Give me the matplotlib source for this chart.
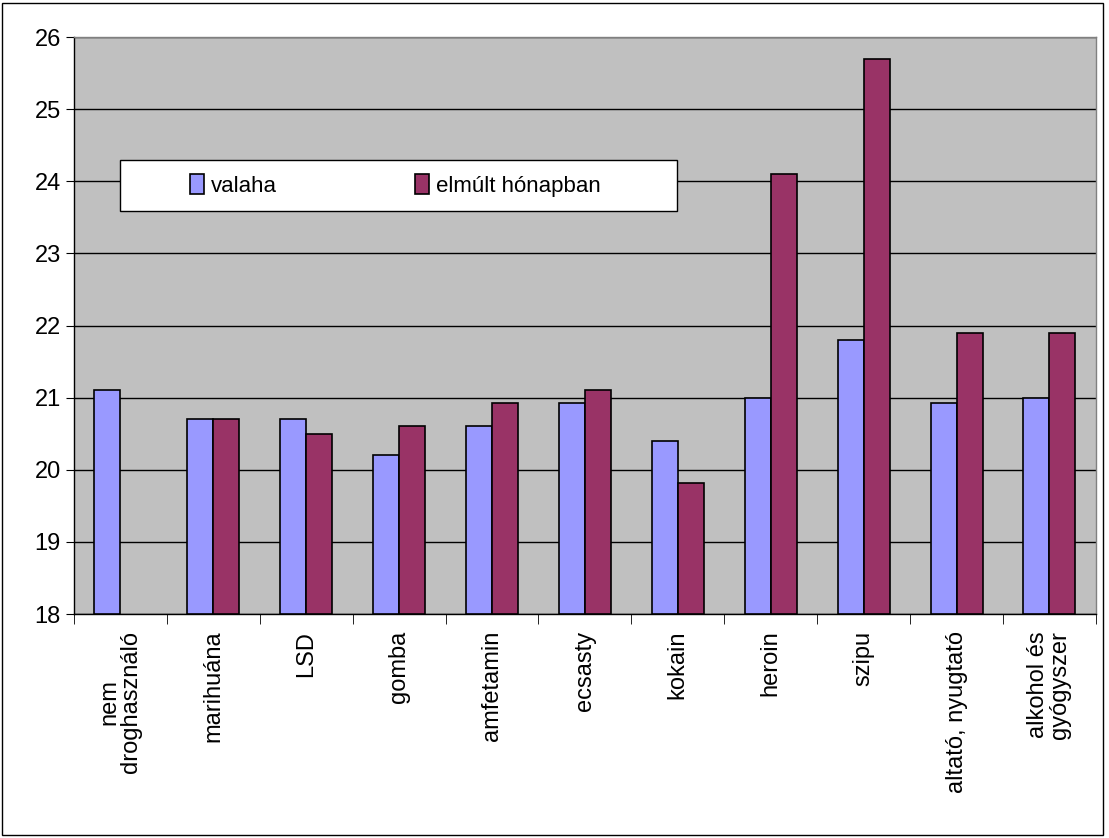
import numpy as np
import matplotlib.pyplot as plt
from matplotlib.patches import Rectangle

# Adatok
kategoriak = ["nem\ndroghasználó", "marihuána", "LSD", "gomba", "amfetamin",
              "ecsasty", "kokain", "heroin", "szipu", "altató, nyugtató",
              "alkohol és\ngyógyszer"]
valaha = [21.1, 20.7, 20.7, 20.2, 20.6, 20.92, 20.4, 21.0, 21.8, 20.92, 21.0]
elmult_honap = [np.nan, 20.7, 20.5, 20.6, 20.92, 21.1, 19.82, 24.1, 25.7, 21.9, 21.9]

plt.rcParams['font.family'] = ['Liberation Sans', 'DejaVu Sans']

fig = plt.figure(figsize=(11.09, 8.38), dpi=100)
ax = fig.add_axes([0.0667, 0.2673, 0.9215, 0.6885])

x = np.arange(len(kategoriak))
w = 0.28
ax.bar(x - w / 2, np.array(valaha) - 18, w, bottom=18, color="#9999FF",
       edgecolor="black", linewidth=1.2, label="valaha", zorder=3)
ax.bar(x + w / 2, np.array(elmult_honap) - 18, w, bottom=18, color="#993366",
       edgecolor="black", linewidth=1.2, label="elmúlt hónapban", zorder=3)

ax.set_facecolor("#C0C0C0")
ax.set_ylim(18, 26)
ax.set_xlim(-0.5, len(kategoriak) - 0.5)
ax.set_yticks(range(18, 27))
ax.yaxis.grid(True, color="black", linewidth=1)
ax.set_axisbelow(True)
for s in ax.spines.values():
    s.set_color("black")
    s.set_linewidth(1)
ax.spines['top'].set_color("#808080")
ax.spines['right'].set_color("#808080")

ax.tick_params(axis='y', labelsize=17, length=6, direction='out')
ax.set_xticks(x)
ax.set_xticklabels(kategoriak, rotation=90, fontsize=17, linespacing=1.0)
ax.tick_params(axis='x', which='major', length=0, pad=12)
ax.set_xticks(np.arange(-0.5, len(kategoriak)), minor=True)
ax.tick_params(axis='x', which='minor', length=7, direction='out')

# jelmagyarázat kerete
ax.add_patch(Rectangle((0.045, 0.698), 0.545, 0.089, transform=ax.transAxes,
                       facecolor="white", edgecolor="black", linewidth=1, zorder=4))
leg = ax.legend(loc='center left', bbox_to_anchor=(0.1135, 0.7425),
                ncol=2, fontsize=16, frameon=False,
                handlelength=0.65, handleheight=1.0, handletextpad=0.3,
                columnspacing=6.2, borderpad=0, borderaxespad=0)
leg.set_zorder(5)

fig.patches.append(Rectangle((0.002, 0.004), 0.993, 0.993, transform=fig.transFigure,
                             fill=False, edgecolor="black", linewidth=1))

fig.savefig("out.png", dpi=100)
